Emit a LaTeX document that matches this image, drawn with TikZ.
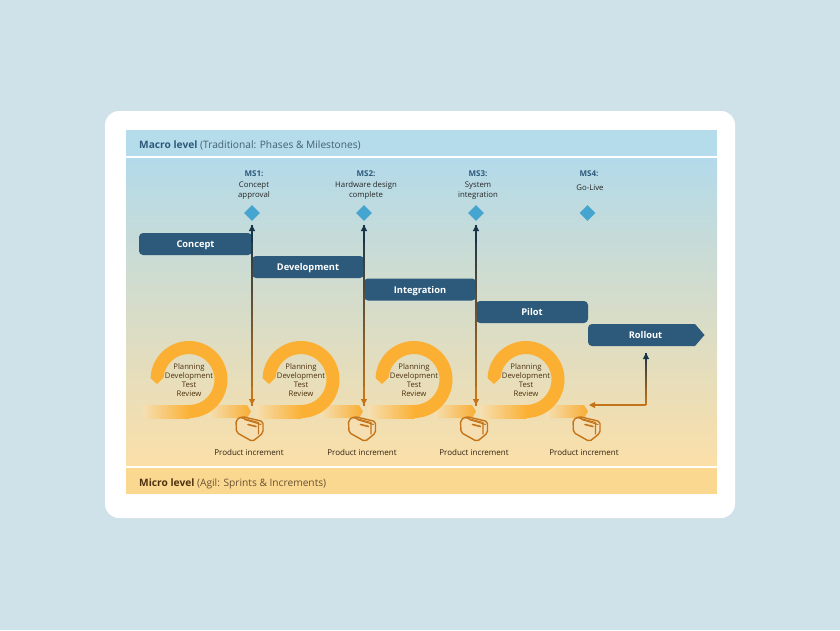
\documentclass[tikz,border=0pt]{standalone}
\usepackage{fontspec}
\setmainfont{Open Sans}
\usetikzlibrary{arrows.meta,calc,shapes.geometric}
\definecolor{pagebg}{HTML}{CFE2E9}
\definecolor{bandblue}{HTML}{B5DCEA}
\definecolor{bandorange}{HTML}{FBD88F}
\definecolor{maintop}{HTML}{B3DAEA}
\definecolor{mainbot}{HTML}{FBDFA8}
\definecolor{navy}{HTML}{2D5A7B}
\definecolor{diamondc}{HTML}{45A5CF}
\definecolor{ringc}{HTML}{FBB034}
\definecolor{paleb}{HTML}{F5DFB2}
\definecolor{brownc}{HTML}{C4751A}
\definecolor{darkc}{HTML}{16344A}
\definecolor{ringtext}{HTML}{4E3210}
\tikzset{
  x=1pt,y=-1pt,
  phase/.style={text=white,font=\fontsize{9.3}{10}\selectfont\bfseries,inner sep=0pt,anchor=base},
  msdiamond/.style={diamond,fill=diamondc,draw=none,minimum width=16pt,minimum height=16pt,inner sep=0pt},
  mstitle/.style={font=\fontsize{8}{9}\selectfont\bfseries,text=navy,inner sep=0pt,anchor=base},
  mstext/.style={font=\fontsize{7.8}{10}\selectfont,text=black!85,align=center,inner sep=0pt,anchor=base},
  ringlabel/.style={font=\fontsize{7.7}{9}\selectfont,text=ringtext,align=center,inner sep=0pt},
  inclabel/.style={font=\fontsize{8}{9}\selectfont,text=black!75!brown,inner sep=0pt,anchor=base},
  bandlabel/.style={font=\fontsize{10.2}{11}\selectfont,anchor=base west,inner sep=0pt},
  boxline/.style={draw=brownc,line width=1.4pt,line join=round,line cap=round},
}
\newcommand{\gradconn}[2]{%
  \foreach \s in {0,...,29}{%
    \pgfmathsetmacro{\pa}{\s/30}%
    \pgfmathsetmacro{\pb}{(\s+1.2)/30}%
    \pgfmathsetmacro{\mixv}{100*(1-\s/29)}%
    \draw[line width=1.05pt,color=darkc!\mixv!brownc] ($(#1)!\pa!(#2)$) -- ($(#1)!\pb!(#2)$);
  }%
  \draw[-{Triangle[length=6pt,width=6pt]},line width=1.05pt,darkc] ($(#1)!0.1!(#2)$) -- (#1);
}
\newcommand{\brownhead}[2]{%
  \draw[-{Triangle[length=6pt,width=6pt]},line width=1.05pt,brownc] (#1) -- (#2);
}
\begin{document}
\begin{tikzpicture}
\useasboundingbox (0,0) rectangle (840,630);
\fill[pagebg] (0,0) rectangle (840,630);
\fill[white,rounded corners=14pt] (105,111) rectangle (735,518);
\fill[bandblue] (126,130) rectangle (717,156);
\shade[top color=maintop,bottom color=mainbot] (126,158) rectangle (717,465);
\fill[bandorange] (126,468) rectangle (717,494);
\node[bandlabel] (macro) at (139,148) {\textcolor{navy}{\bfseries Macro level} \textcolor{navy!75!black!85!white}{(Traditional: Phases \& Milestones)}};
\node[bandlabel] (micro) at (139,486) {\textcolor{ringtext}{\bfseries Micro level} \textcolor{ringtext!85!white}{(Agil: Sprints \& Increments)}};

% spirals
\foreach \cx/\i in {189/1,301/2,414/3,526/4}{
  \def\cy{379.5}
  \shade[left color=paleb,right color=ringc] (\cx-46,405) rectangle (\cx+0.5,418);
  \shade[left color=paleb,right color=ringc!95!brownc]
     (\cx+20,405) -- (\cx+58,405) -- (\cx+62,411.5) -- (\cx+58,418) -- (\cx+20,418) -- cycle;
  \fill[ringc] (\cx,\cy+38.5) arc[start angle=-90,end angle=178,radius=38.5pt]
     -- (\cx-32,\cy+4.5) -- (\cx-25.4,\cy-2)
     arc[start angle=175.5,end angle=-90,radius=25.5pt] -- cycle;
  \node[ringlabel] (ring\i) at (\cx,\cy+0.5) {Planning\\Development\\Test\\Review};
}

% phases
\path[fill=navy,rounded corners=4pt] (139,233) rectangle (252,255);
\node[phase] (concept) at (195.5,247.5) {Concept};
\path[fill=navy,rounded corners=4pt] (252,256) rectangle (364,278);
\node[phase] (development) at (308,270.5) {Development};
\path[fill=navy,rounded corners=4pt] (364,278.5) rectangle (476,300.5);
\node[phase] (integration) at (420,293) {Integration};
\path[fill=navy,rounded corners=4pt] (476,301) rectangle (588,323);
\node[phase] (pilot) at (532,315.5) {Pilot};
\fill[navy] (592,324) -- (695,324) -- (704.5,335) -- (695,346) -- (592,346)
   arc[start angle=270,end angle=180,radius=4pt] -- (588,328) arc[start angle=180,end angle=90,radius=4pt] -- cycle;
\node[phase] (rollout) at (645.5,338.5) {Rollout};

% milestones
\foreach \x/\i in {252/1,364/2,476/3,587.5/4}{
  \node[msdiamond] (d\i) at (\x,213) {};
}
\node[mstitle] (ms1) at (254,176) {MS1:};
\node[mstext] (t1) at (254,197) {Concept\\approval};
\node[mstitle] (ms2) at (366,176) {MS2:};
\node[mstext] (t2) at (366,197) {Hardware design\\complete};
\node[mstitle] (ms3) at (478,176) {MS3:};
\node[mstext] (t3) at (478,197) {System\\integration};
\node[mstitle] (ms4) at (589,176) {MS4:};
\node[mstext] (t4) at (590,190) {Go-Live};

% increments
\foreach \bx/\i/\lx in {0/1/249,112.5/2/362,224.5/3/474,337/4/584}{
  \begin{scope}[shift={(\bx,0)}]
    \path[boxline,fill=paleb,rounded corners=2pt] (236,420) -- (242,416.5) -- (263,421.5) -- (263,433) -- (252.5,441.5) -- (236.5,432.5) -- cycle;
    \draw[boxline,line width=1.1pt] (240,417.5) -- (258.5,422.5) -- (258.5,434);
    \draw[boxline,line width=1.1pt] (244.5,419.5) -- (261,424.5);
    \draw[boxline,line width=1.6pt] (248,424.5) -- (256,426.5);
  \end{scope}
  \node[inclabel] (inc\i) at (\lx,455) {Product increment};
}

% connectors
\foreach \x/\i in {252/1,364/2,476/3}{
  \coordinate (top\i) at (\x,225);
  \coordinate (bot\i) at (\x,405);
  \gradconn{top\i}{bot\i}
  \brownhead{$(top\i)!0.9!(bot\i)$}{bot\i}
}
\coordinate (rtop) at (646,353);
\coordinate (rcor) at (646,405);
\coordinate (rend) at (589,405);
\gradconn{rtop}{rcor}
\brownhead{rcor}{rend}
\end{tikzpicture}
\end{document}
